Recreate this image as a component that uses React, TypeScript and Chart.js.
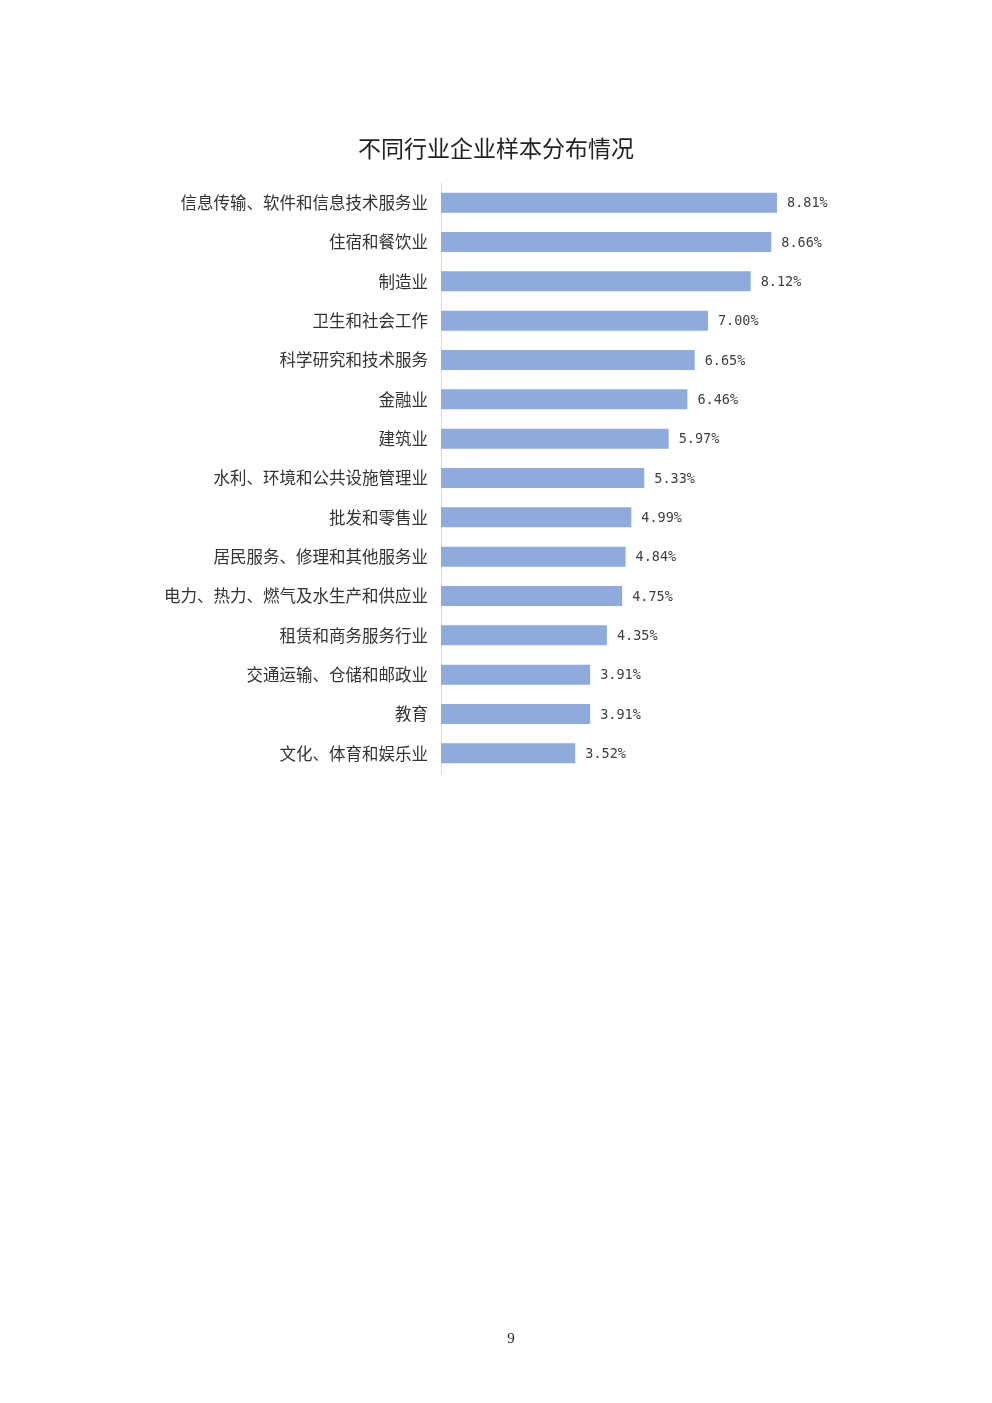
import React, { useEffect, useRef } from "react";
import { Chart, registerables } from "chart.js";

Chart.register(...registerables);

const title = "不同行业企业样本分布情况";
const categories = [
  "信息传输、软件和信息技术服务业",
  "住宿和餐饮业",
  "制造业",
  "卫生和社会工作",
  "科学研究和技术服务",
  "金融业",
  "建筑业",
  "水利、环境和公共设施管理业",
  "批发和零售业",
  "居民服务、修理和其他服务业",
  "电力、热力、燃气及水生产和供应业",
  "租赁和商务服务行业",
  "交通运输、仓储和邮政业",
  "教育",
  "文化、体育和娱乐业",
];
const values = [8.81, 8.66, 8.12, 7.0, 6.65, 6.46, 5.97, 5.33, 4.99, 4.84, 4.75, 4.35, 3.91, 3.91, 3.52];
const pageNumber = "9";

const W = 992;
const H = 1403;

export default function App() {
  const ref = useRef<HTMLCanvasElement>(null);
  useEffect(() => {
    const canvas = ref.current!;
    const labelPlugin = {
      id: "valueLabels",
      afterDatasetsDraw(chart: any) {
        const ctx = chart.ctx;
        const meta = chart.getDatasetMeta(0);
        ctx.save();
        ctx.font = "13.5px 'DejaVu Sans Mono'";
        ctx.fillStyle = "#404040";
        ctx.textAlign = "left";
        ctx.textBaseline = "middle";
        meta.data.forEach((bar: any, i: number) => {
          ctx.fillText(values[i].toFixed(2) + "%", bar.x + 10, bar.y + 1);
        });
        ctx.font = "23px 'Noto Sans CJK SC'";
        ctx.fillStyle = "#222";
        ctx.textAlign = "center";
        ctx.fillText(title, 496, 148);
        ctx.font = "15px 'Liberation Serif'";
        ctx.fillText(pageNumber, 511, 1339);
        ctx.restore();
      },
    };
    const chart = new Chart(canvas, {
      type: "bar",
      data: {
        labels: categories,
        datasets: [
          {
            data: values,
            backgroundColor: "#8FAADC",
            borderWidth: 0,
            barPercentage: 0.51,
            categoryPercentage: 1,
          },
        ],
      },
      options: {
        indexAxis: "y",
        responsive: false,
        animation: false,
        devicePixelRatio: 1,
        layout: { padding: { top: 183, bottom: H - 773, right: W - 822.4, left: 0 } },
        plugins: {
          legend: { display: false },
          tooltip: { enabled: false },
          title: { display: false },
        },
        scales: {
          x: { display: false, min: 0, max: 10 },
          y: {
            afterFit(scale: any) {
              scale.width = 441;
            },
            grid: { display: false, drawTicks: false },
            border: { display: true, color: "#d9d9d9", width: 1 },
            ticks: {
              padding: 13,
              color: "#333",
              font: { family: "'Noto Sans CJK SC'", size: 16.5 },
            },
          },
        },
      },
      plugins: [labelPlugin],
    });
    return () => chart.destroy();
  }, []);
  return (
    <div style={{ position: "absolute", left: 0, top: 0, width: W, height: H, background: "#fff" }}>
      <canvas ref={ref} width={W} height={H} style={{ width: W, height: H, display: "block" }} />
    </div>
  );
}
